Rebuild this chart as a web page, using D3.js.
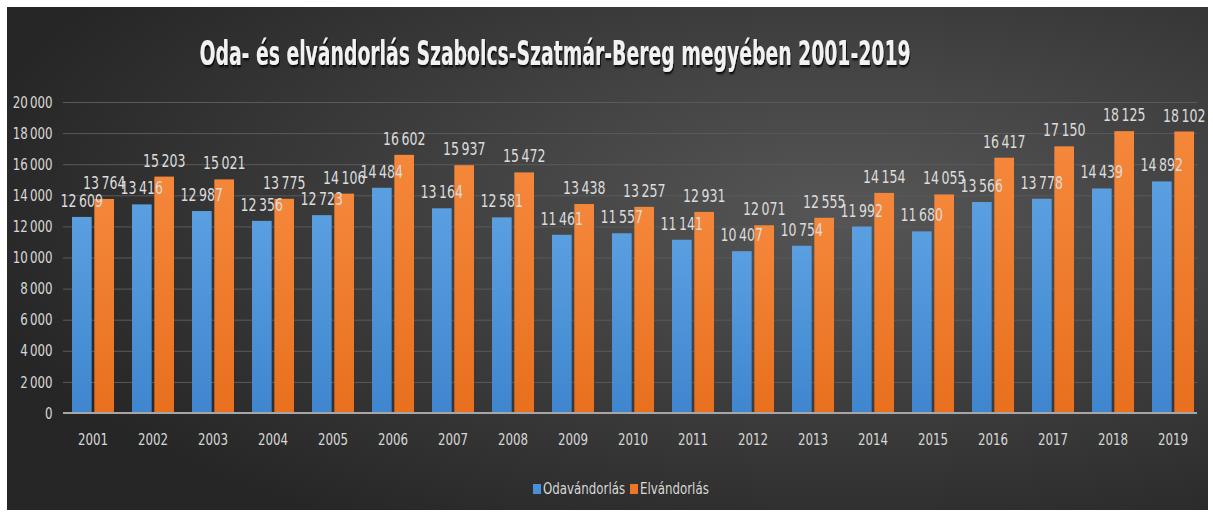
<!DOCTYPE html>
<html>
<head>
<meta charset="utf-8">
<script src="https://cdn.jsdelivr.net/npm/d3@7"></script>
<style>
  body { margin: 0; background: #fff; }
  svg { display: block; }
</style>
</head>
<body>
<svg id="chart" width="1213" height="517"></svg>
<script>
// chart data
let years = ["2001","2002","2003","2004","2005","2006","2007","2008","2009","2010",
             "2011","2012","2013","2014","2015","2016","2017","2018","2019"]
let odavandorlas = [12609,13416,12987,12356,12723,14484,13164,12581,11461,11557,
                    11141,10407,10754,11992,11680,13566,13778,14439,14892]
let elvandorlas = [13764,15203,15021,13775,14106,16602,15937,15472,13438,13257,
                   12931,12071,12555,14154,14055,16417,17150,18125,18102]
let yTicks = [0,2000,4000,6000,8000,10000,12000,14000,16000,18000,20000]
let seriesNames = ["Odavándorlás", "Elvándorlás"]

let width = 1213
let height = 517
let font = "'DejaVu Sans', sans-serif"
let squeeze = 0.74 // no condensed face installed, so text is narrowed by hand

let svg = d3.select("#chart")
let defs = svg.append("defs")

// panel background, darker on the left
let bg = defs.append("radialGradient").attr("id", "bg")
    .attr("cx", "70%").attr("cy", "40%").attr("r", "75%")
bg.append("stop").attr("offset", "0%").attr("stop-color", "#565656")
bg.append("stop").attr("offset", "100%").attr("stop-color", "#262626")

let blue = defs.append("linearGradient").attr("id", "blue").attr("x1", 0).attr("x2", 0).attr("y1", 0).attr("y2", 1)
blue.append("stop").attr("offset", "0%").attr("stop-color", "#5a9fe0")
blue.append("stop").attr("offset", "100%").attr("stop-color", "#3f86cf")

let orange = defs.append("linearGradient").attr("id", "orange").attr("x1", 0).attr("x2", 0).attr("y1", 0).attr("y2", 1)
orange.append("stop").attr("offset", "0%").attr("stop-color", "#f5873a")
orange.append("stop").attr("offset", "100%").attr("stop-color", "#e8701f")

let shadow = defs.append("filter").attr("id", "shadow")
    .attr("x", "-5%").attr("y", "-30%").attr("width", "110%").attr("height", "160%")
shadow.append("feDropShadow").attr("dx", 1.5).attr("dy", 2).attr("stdDeviation", 1.2)
    .attr("flood-color", "#000").attr("flood-opacity", 0.9)

svg.append("rect")
    .attr("x", 7).attr("y", 7)
    .attr("width", 1201).attr("height", 503)
    .attr("fill", "url(#bg)")

let margin = { top: 102, right: 10, bottom: 104, left: 63 }

let x = d3.scaleBand()
    .domain(years)
    .range([margin.left, width - margin.right])
    .paddingInner(0.3)
    .paddingOuter(0.15)

let inner = d3.scaleBand()
    .domain([0, 1])
    .range([0, x.bandwidth()])
    .paddingInner(0.12)

let y = d3.scaleLinear()
    .domain([0, 20000])
    .range([height - margin.bottom, margin.top])

let fmt = v => d3.format(",")(v).replace(/,/g, "\u2009")

// gridlines and y labels
let yAxis = svg.append("g")
    .attr("transform", `translate(${margin.left},0)`)
    .call(d3.axisLeft(y).tickValues(yTicks).tickSize(-(width - margin.right - margin.left - 6)).tickPadding(14).tickFormat(fmt))
yAxis.select(".domain").remove()
yAxis.selectAll("line").attr("stroke", "#5a5a5a").attr("stroke-width", 1)
yAxis.selectAll("text")
    .attr("transform", `scale(${squeeze},1)`)
    .style("font-family", font).style("font-size", "16px")
    .attr("fill", "#d8d8d8")

// bars
let groups = svg.append("g").selectAll("g")
    .data(years)
    .join("g")
    .attr("transform", d => `translate(${x(d)},0)`)

let barData = (yr, i) => [
    { k: 0, v: odavandorlas[i] },
    { k: 1, v: elvandorlas[i] }
]

groups.selectAll("rect")
    .data(barData)
    .join("rect")
    .attr("x", d => inner(d.k))
    .attr("width", inner.bandwidth())
    .attr("y", d => y(d.v))
    .attr("height", d => y(0) - y(d.v))
    .attr("fill", d => d.k == 0 ? "url(#blue)" : "url(#orange)")

groups.selectAll("text")
    .data(barData)
    .join("text")
    .attr("transform", d => `translate(${inner(d.k) + inner.bandwidth() / 2},${y(d.v) - 10}) scale(${squeeze},1)`)
    .attr("text-anchor", "middle")
    .style("font-family", font).style("font-size", "17px")
    .attr("fill", "#dcdcdc")
    .text(d => fmt(d.v))

// baseline
svg.append("line")
    .attr("x1", margin.left).attr("x2", width - margin.right - 6)
    .attr("y1", y(0)).attr("y2", y(0))
    .attr("stroke", "#a6a6a6").attr("stroke-width", 2)

// x labels
let xAxis = svg.append("g")
    .attr("transform", `translate(0,${y(0)})`)
    .call(d3.axisBottom(x).tickSize(0).tickPadding(21))
xAxis.select(".domain").remove()
xAxis.selectAll(".tick text")
    .attr("transform", `scale(${squeeze},1)`)
    .style("font-family", font).style("font-size", "16px")
    .attr("fill", "#d8d8d8")

// title
svg.append("text")
    .attr("transform", "translate(555,65) scale(0.57,1)")
    .attr("text-anchor", "middle")
    .style("font-family", font).style("font-size", "33px").style("font-weight", "bold")
    .attr("fill", "#f2f2f2")
    .attr("filter", "url(#shadow)")
    .text("Oda- és elvándorlás Szabolcs-Szatmár-Bereg megyében 2001-2019")

// legend
let legend = svg.append("g").attr("transform", "translate(533,490)")
let lx = [0, 97]
legend.selectAll("rect")
    .data(seriesNames)
    .join("rect")
    .attr("x", (d, i) => lx[i]).attr("y", -6)
    .attr("width", 8).attr("height", 10)
    .attr("fill", (d, i) => i == 0 ? "#4a90d9" : "#ed7526")
legend.selectAll("text")
    .data(seriesNames)
    .join("text")
    .attr("transform", (d, i) => `translate(${lx[i] + 10},4) scale(${squeeze},1)`)
    .style("font-family", font).style("font-size", "16px")
    .attr("fill", "#d8d8d8")
    .text(d => d)
</script>
</body>
</html>
